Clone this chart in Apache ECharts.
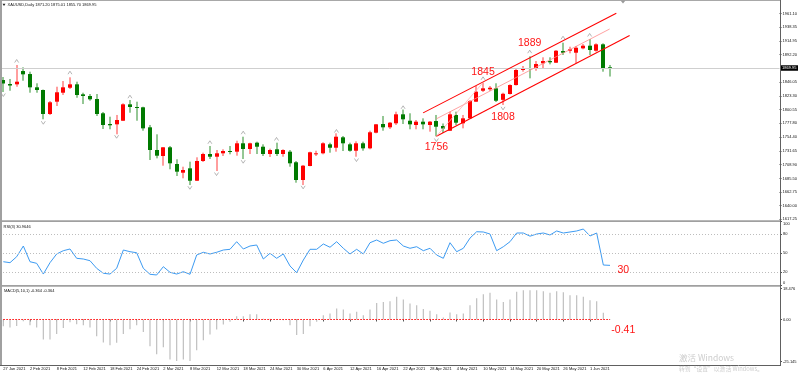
<!DOCTYPE html>
<html>
<head>
<meta charset="utf-8">
<script src="https://cdn.jsdelivr.net/npm/echarts@6/dist/echarts.min.js"></script>
<style>
html,body{margin:0;padding:0;background:#ffffff;}
#chart{width:800px;height:375px;}
</style>
</head>
<body>
<div id="chart"></div>
<script>
const dates = ['27 Jan 2021','28 Jan 2021','29 Jan 2021','1 Feb 2021','2 Feb 2021','3 Feb 2021','4 Feb 2021','5 Feb 2021','8 Feb 2021','9 Feb 2021','10 Feb 2021','11 Feb 2021','12 Feb 2021','15 Feb 2021','16 Feb 2021','17 Feb 2021','18 Feb 2021','19 Feb 2021','22 Feb 2021','23 Feb 2021','24 Feb 2021','25 Feb 2021','26 Feb 2021','1 Mar 2021','2 Mar 2021','3 Mar 2021','4 Mar 2021','5 Mar 2021','8 Mar 2021','9 Mar 2021','10 Mar 2021','11 Mar 2021','12 Mar 2021','15 Mar 2021','16 Mar 2021','17 Mar 2021','18 Mar 2021','19 Mar 2021','22 Mar 2021','23 Mar 2021','24 Mar 2021','25 Mar 2021','26 Mar 2021','29 Mar 2021','30 Mar 2021','31 Mar 2021','1 Apr 2021','5 Apr 2021','6 Apr 2021','7 Apr 2021','8 Apr 2021','9 Apr 2021','12 Apr 2021','13 Apr 2021','14 Apr 2021','15 Apr 2021','16 Apr 2021','19 Apr 2021','20 Apr 2021','21 Apr 2021','22 Apr 2021','23 Apr 2021','26 Apr 2021','27 Apr 2021','28 Apr 2021','29 Apr 2021','30 Apr 2021','3 May 2021','4 May 2021','5 May 2021','6 May 2021','7 May 2021','10 May 2021','11 May 2021','12 May 2021','13 May 2021','14 May 2021','17 May 2021','18 May 2021','19 May 2021','20 May 2021','21 May 2021','24 May 2021','25 May 2021','26 May 2021','27 May 2021','28 May 2021','31 May 2021','1 Jun 2021','2 Jun 2021','3 Jun 2021','4 Jun 2021'];

const opens  = [1849.9,1843.2,1842.7,1864.9,1859.9,1837.7,1833.2,1793.1,1813.7,1828.7,1837.0,1842.7,1826.0,1823.2,1818.2,1794.3,1776.4,1775.9,1781.9,1809.3,1804.8,1804.3,1770.9,1733.0,1723.0,1737.5,1709.6,1695.1,1702.4,1681.7,1714.6,1726.3,1721.8,1727.5,1731.3,1730.2,1744.2,1734.7,1745.2,1738.5,1726.3,1734.2,1726.3,1730.2,1712.5,1682.9,1706.3,1725.8,1727.5,1742.5,1736.8,1754.2,1742.5,1731.8,1744.2,1735.8,1761.9,1776.4,1770.9,1777.6,1792.6,1781.9,1774.8,1780.3,1774.8,1781.4,1773.1,1765.2,1791.5,1777.6,1785.9,1813.7,1832.0,1834.4,1836.0,1816.8,1826.5,1841.5,1866.6,1869.9,1869.4,1877.8,1881.6,1878.8,1898.3,1898.8,1895.5,1902.8,1907.2,1898.8,1909.5,1871.20];
const highs  = [1854.9,1851.6,1875.0,1871.1,1863.8,1844.4,1834.0,1814.8,1838.7,1848.2,1854.4,1847.1,1828.7,1826.5,1826.5,1796.5,1788.6,1791.5,1811.0,1816.5,1813.7,1805.3,1774.8,1759.2,1738.0,1739.7,1717.5,1705.1,1713.5,1720.8,1728.5,1739.7,1733.0,1734.2,1739.7,1748.5,1755.2,1745.2,1746.9,1742.5,1735.2,1745.2,1734.2,1733.0,1714.6,1708.0,1730.2,1731.8,1745.9,1745.2,1760.9,1756.4,1745.2,1747.5,1746.9,1765.2,1776.4,1789.8,1779.8,1797.0,1800.6,1794.3,1783.1,1785.9,1781.4,1791.5,1777.3,1797.0,1797.0,1791.5,1816.5,1839.9,1845.7,1839.9,1844.4,1828.7,1842.7,1868.3,1873.3,1889.5,1881.6,1887.8,1887.8,1900.0,1912.2,1905.5,1906.7,1910.0,1918.4,1911.2,1911.2,1875.01];
const lows   = [1829.9,1832.0,1838.7,1848.7,1828.7,1828.7,1784.3,1791.5,1806.5,1824.9,1834.9,1820.3,1809.8,1815.3,1789.8,1768.1,1767.6,1759.2,1781.4,1795.3,1781.9,1765.2,1716.3,1719.1,1706.8,1700.8,1689.6,1685.7,1674.5,1681.2,1713.0,1718.0,1697.9,1723.0,1725.8,1723.5,1718.0,1726.3,1726.3,1723.0,1721.3,1723.0,1721.8,1705.1,1678.4,1674.5,1705.8,1723.0,1725.8,1728.5,1730.2,1731.3,1730.2,1721.8,1731.8,1734.2,1760.9,1765.2,1768.1,1774.8,1776.4,1767.6,1767.6,1767.6,1763.6,1755.9,1761.4,1764.7,1774.8,1769.2,1784.8,1813.2,1829.9,1831.5,1813.2,1808.2,1825.7,1840.7,1863.8,1852.7,1865.4,1869.4,1876.1,1878.3,1891.7,1894.5,1877.8,1901.2,1891.7,1897.2,1863.8,1855.70];
const closes = [1844.1,1840.7,1847.1,1859.4,1837.7,1833.2,1793.1,1812.7,1829.4,1837.7,1842.7,1824.9,1823.2,1817.7,1793.1,1774.8,1774.3,1783.1,1809.3,1804.8,1804.0,1769.2,1733.0,1723.5,1737.5,1710.8,1696.8,1699.6,1681.7,1714.6,1726.3,1721.8,1727.5,1731.3,1730.5,1744.2,1734.7,1744.2,1738.5,1726.3,1733.0,1726.3,1733.0,1710.8,1682.9,1706.8,1729.2,1727.5,1744.2,1736.8,1755.2,1744.2,1731.8,1744.2,1735.8,1762.6,1775.9,1770.9,1778.6,1792.6,1784.3,1775.9,1780.3,1775.9,1780.3,1771.9,1768.9,1792.6,1778.6,1785.9,1814.8,1830.4,1836.0,1837.0,1815.3,1826.9,1841.5,1866.6,1869.4,1868.6,1876.6,1881.6,1879.5,1898.8,1895.5,1901.2,1903.8,1907.2,1900.0,1909.5,1869.4,1869.95];

const rsiValues = [36.7,35.2,44.6,61.5,36.7,34.2,17.3,35.2,48.9,54.1,56.8,42.1,41.0,38.3,26.3,18.5,17.3,26.3,55.2,52.5,50.9,26.3,16.9,15.8,28.9,20.0,17.3,21.0,16.9,47.3,51.6,48.9,51.6,55.2,56.3,68.3,56.8,61.5,63.1,41.0,50.0,42.1,48.9,30.0,19.4,39.4,56.3,56.3,64.7,59.5,68.3,57.9,48.9,56.3,48.9,66.7,71.0,65.8,69.9,71.0,61.5,57.9,60.4,54.1,57.9,47.3,42.1,66.7,52.5,57.9,74.0,84.0,83.6,80.4,54.1,60.4,68.3,82.0,82.0,77.0,80.4,82.0,78.9,85.2,82.0,83.6,85.2,88.3,77.3,82.0,31.5,30.96];

const macdValues = [-4.0,-4.8,-3.8,-1.0,-3.4,-4.8,-11.9,-11.9,-8.7,-5.0,-1.6,-2.8,-3.4,-4.8,-10.0,-13.7,-15.3,-13.9,-8.7,-5.8,-3.4,-7.4,-15.9,-20.7,-16.5,-23.8,-24.8,-23.8,-24.8,-18.3,-12.3,-8.9,-6.0,-3.0,-1.4,2.0,2.0,3.2,3.2,0.4,0.4,-0.3,-0.4,-3.4,-9.3,-8.7,-4.0,-1.4,2.6,3.6,6.6,6.0,3.6,4.6,2.6,6.0,9.9,10.5,10.9,13.5,11.9,9.5,8.5,6.2,5.2,3.2,1.2,4.2,3.2,3.6,8.5,12.7,15.1,15.9,11.9,10.5,11.9,16.5,17.5,17.5,17.5,16.9,15.9,16.9,16.3,14.5,14.5,13.5,11.5,10.9,4.0,-0.364];

const priceTickValues = [1617.25,1640.00,1662.75,1685.50,1708.90,1731.65,1754.40,1777.80,1800.55,1823.30,1846.05,1892.20,1914.95,1938.35,1961.10];
const rsiTopTick = [100];
const rsiMidTicks = [80,50,20];
const rsiBottomTick = [0];
const rsiLevels = [80,50,20];
const macdTickValues = [18.476,0,-25.145];
const macdTickLabels = ['18.476','0.00','-25.145'];
const lastPrice = 1869.95;

const fractalUpIdx = [2,10,19,31,36,41,50,60,72,79,84,88];
const fractalUpVal = [1881.6,1862.1,1822.0,1745.9,1761.9,1751.4,1764.7,1804.3,1852.7,1897.2,1920.5,1925.1];
const fractalDownIdx = [0,6,17,28,32,36,45,53,65,75];
const fractalDownVal = [1824.9,1778.6,1755.2,1670.0,1692.9,1713.5,1670.7,1716.3,1749.7,1802.6];

const channelUpper = [[63,1795.0],[92,1961.4]];
const channelLower = [[65,1756.0],[94,1924.2]];
const channelMiddle = [[65,1785.1],[91,1935.1]];
const swingLine = [[65,1756.0],[72,1845.7]];
const priceNotes = [['1756',65,1738.5],['1808',75,1787.3],['1845',72,1862.4],['1889',79,1911.2]];
const rsiNote = ['30',93,24.1];
const macdNote = ['-0.41',93,-6.1];

const headerText = 'XAUUSD,Daily 1871.20 1875.01 1855.70 1869.95';
const rsiTitle = 'RSI(3) 30.9646';
const macdTitle = 'MACD(5,10,1) -0.364 -0.364';

const PAD = 25;
const cats = dates.concat(new Array(PAD).fill(''));
const FONT = 'Liberation Sans';
const labelShown = (idx) => idx % 4 === 0 && idx < dates.length;

const candleData = dates.map((d, i) => [i, opens[i], highs[i], lows[i], closes[i]]);

function renderCandle(params, api) {
  const i = api.value(0);
  const o = api.value(1), h = api.value(2), l = api.value(3), c = api.value(4);
  const pO = api.coord([i, o]), pC = api.coord([i, c]);
  const pH = api.coord([i, h]), pL = api.coord([i, l]);
  const bull = c > o;
  const cx = Math.round(pO[0]);
  const top = Math.min(pO[1], pC[1]);
  const bot = Math.max(pO[1], pC[1]);
  return {
    type: 'group',
    children: [
      { type: 'line', shape: { x1: cx, y1: pH[1], x2: cx, y2: pL[1] },
        style: { stroke: bull ? '#ff3c3c' : '#2a8f2a', lineWidth: 1 } },
      { type: 'rect', shape: { x: cx - 2, y: top, width: 4, height: Math.max(bot - top, 1) },
        style: { fill: bull ? '#ff0000' : '#007a00' } }
    ]
  };
}

function hiddenX(gi) {
  return { type: 'category', gridIndex: gi, data: cats, boundaryGap: true,
    axisLine: { show: false }, axisTick: { show: false }, axisLabel: { show: false }, splitLine: { show: false } };
}

function rsiAxis(values, vAlign) {
  return { type: 'value', gridIndex: 1, position: 'right', min: 0, max: 100,
    axisLine: { show: false }, splitLine: { show: false },
    axisTick: { show: true, length: 2, customValues: values, lineStyle: { color: '#555' } },
    axisLabel: { customValues: values, formatter: v => String(v), fontSize: 4, color: '#111', margin: 3,
      fontFamily: FONT, verticalAlign: vAlign } };
}

function styledSeg(pts, color, width) {
  return [{ coord: pts[0], lineStyle: { color: color, width: width, type: 'solid' }, label: { show: false } }, { coord: pts[1] }];
}

const chart = echarts.init(document.getElementById('chart'), null, { renderer: 'canvas' });

const option = {
  animation: false,
  backgroundColor: '#ffffff',
  grid: [
    { left: -1, width: 781, top: 2, height: 218 },
    { left: -1, width: 781, top: 221.6, height: 63.4 },
    { left: -1, width: 781, top: 288.5, height: 73.2 }
  ],
  xAxis: [
    hiddenX(0),
    hiddenX(1),
    { type: 'category', gridIndex: 2, data: cats, boundaryGap: true, offset: 3.5,
      axisLine: { show: false },
      axisTick: { show: true, alignWithLabel: true, interval: labelShown, length: 2, lineStyle: { color: '#555', width: 1 } },
      axisLabel: { show: true, interval: labelShown, align: 'left', fontSize: 4, color: '#111', margin: 1.5, fontFamily: FONT },
      splitLine: { show: false } }
  ],
  yAxis: [
    { type: 'value', gridIndex: 0, position: 'right', min: 1616.1, max: 1980.2,
      axisLine: { show: false }, splitLine: { show: false },
      axisTick: { show: true, length: 2, customValues: priceTickValues, lineStyle: { color: '#555' } },
      axisLabel: { customValues: priceTickValues, formatter: v => v.toFixed(2), fontSize: 4, color: '#111', margin: 3, fontFamily: FONT } },
    rsiAxis(rsiMidTicks, 'middle'),
    { type: 'value', gridIndex: 2, position: 'right', min: -25.145, max: 18.476,
      axisLine: { show: false }, splitLine: { show: false },
      axisTick: { show: true, length: 2, customValues: macdTickValues, lineStyle: { color: '#555' } },
      axisLabel: { customValues: macdTickValues,
        formatter: v => { let best = 0; macdTickValues.forEach((t, k) => { if (Math.abs(t - v) < Math.abs(macdTickValues[best] - v)) best = k; }); return macdTickLabels[best]; },
        fontSize: 4, color: '#111', margin: 3, fontFamily: FONT } },
    rsiAxis(rsiTopTick, 'top'),
    rsiAxis(rsiBottomTick, 'bottom')
  ],
  series: [
    { type: 'custom', name: 'XAUUSD', xAxisIndex: 0, yAxisIndex: 0, data: candleData,
      encode: { x: 0, y: [1, 2, 3, 4] }, renderItem: renderCandle, z: 3 },
    { type: 'scatter', name: 'FractalUp', xAxisIndex: 0, yAxisIndex: 0,
      data: fractalUpIdx.map((d, k) => [d, fractalUpVal[k]]),
      symbol: 'path://M0,6 L3,0 L6,6', symbolSize: [4, 3],
      itemStyle: { color: 'rgba(0,0,0,0)', borderColor: '#8c8c8c', borderWidth: 0.8 }, z: 4,
      markLine: {
        silent: true, symbol: ['none', 'none'], animation: false,
        data: [
          { yAxis: lastPrice, lineStyle: { color: '#cfcfcf', width: 1, type: 'solid' },
            label: { show: true, position: 'end', formatter: lastPrice.toFixed(2), color: '#ffffff', backgroundColor: '#000000',
              fontSize: 4, fontFamily: FONT, padding: [1, 1.5, 0.5, 1.5], distance: 1 } },
          styledSeg(channelUpper, '#ff0000', 1.1),
          styledSeg(channelLower, '#ff0000', 1.1),
          styledSeg(channelMiddle, '#ff8a8a', 0.8),
          styledSeg(swingLine, '#ffb4b4', 0.8)
        ]
      },
      markPoint: {
        silent: true, animation: false, symbol: 'circle', symbolSize: 1,
        itemStyle: { color: 'rgba(0,0,0,0)' },
        label: { show: true, position: 'inside', color: '#ff1414', fontSize: 10.5, fontFamily: FONT },
        data: priceNotes.map(n => ({ coord: [n[1], n[2]], label: { formatter: n[0] } }))
      }
    },
    { type: 'scatter', name: 'FractalDown', xAxisIndex: 0, yAxisIndex: 0,
      data: fractalDownIdx.map((d, k) => [d, fractalDownVal[k]]),
      symbol: 'path://M0,0 L3,6 L6,0', symbolSize: [4, 3],
      itemStyle: { color: 'rgba(0,0,0,0)', borderColor: '#8c8c8c', borderWidth: 0.8 }, z: 4 },
    { type: 'line', name: 'RSI', xAxisIndex: 1, yAxisIndex: 1, data: rsiValues,
      symbol: 'none', lineStyle: { color: '#3d9bf2', width: 1 }, z: 3,
      markLine: {
        silent: true, symbol: ['none', 'none'], animation: false,
        lineStyle: { color: '#bdbdbd', width: 1, type: [1, 2] }, label: { show: false },
        data: rsiLevels.map(v => ({ yAxis: v }))
      },
      markPoint: {
        silent: true, animation: false, symbol: 'circle', symbolSize: 1, itemStyle: { color: 'rgba(0,0,0,0)' },
        label: { show: true, position: 'inside', color: '#ff1414', fontSize: 10.5, fontFamily: FONT, formatter: rsiNote[0] },
        data: [{ coord: [rsiNote[1], rsiNote[2]] }]
      }
    },
    { type: 'bar', name: 'MACD', xAxisIndex: 2, yAxisIndex: 2, data: macdValues,
      barWidth: 1.2, itemStyle: { color: '#bfbfbf' }, z: 3,
      markLine: {
        silent: true, symbol: ['none', 'none'], animation: false,
        lineStyle: { color: '#ff0000', width: 1, type: [1.5, 1.5] }, label: { show: false },
        data: [[{ coord: [0, 0] }, { coord: [dates.length - 1, 0] }]]
      },
      markPoint: {
        silent: true, animation: false, symbol: 'circle', symbolSize: 1, itemStyle: { color: 'rgba(0,0,0,0)' },
        label: { show: true, position: 'inside', color: '#ff1414', fontSize: 10.5, fontFamily: FONT, formatter: macdNote[0] },
        data: [{ coord: [macdNote[1], macdNote[2]] }]
      }
    }
  ],
  graphic: [
    { type: 'line', z: 100, shape: { x1: 0, y1: 0.5, x2: 780, y2: 0.5 }, style: { stroke: '#a8a8a8', lineWidth: 1 } },
    { type: 'line', z: 100, shape: { x1: 1, y1: 0, x2: 1, y2: 365 }, style: { stroke: '#a0a0a0', lineWidth: 2 } },
    { type: 'rect', z: 100, shape: { x: 0, y: 220.2, width: 780, height: 1.8 }, style: { fill: '#a0a0a0' } },
    { type: 'rect', z: 100, shape: { x: 0, y: 284.9, width: 780, height: 1.8 }, style: { fill: '#a0a0a0' } },
    { type: 'line', z: 100, shape: { x1: 780.5, y1: 0, x2: 780.5, y2: 365.5 }, style: { stroke: '#606060', lineWidth: 1 } },
    { type: 'line', z: 100, shape: { x1: 0, y1: 365.5, x2: 781, y2: 365.5 }, style: { stroke: '#606060', lineWidth: 1 } },
    { type: 'polygon', z: 100, shape: { points: [[620.5, 0.5], [625.5, 0.5], [623, 3.5]] }, style: { fill: '#9a9a9a' } },
    { type: 'polygon', z: 100, shape: { points: [[2.5, 3.8], [5.5, 3.8], [4, 6]] }, style: { fill: '#222' } },
    { type: 'text', z: 100, x: 7.5, y: 3, style: { text: headerText, fontSize: 4, fontFamily: FONT, fill: '#111' } },
    { type: 'text', z: 100, x: 3.5, y: 224.5, style: { text: rsiTitle, fontSize: 4, fontFamily: FONT, fill: '#111' } },
    { type: 'text', z: 100, x: 4, y: 288.5, style: { text: macdTitle, fontSize: 4, fontFamily: FONT, fill: '#111' } },
    { type: 'text', z: 100, x: 679, y: 353.5, style: { text: '激活 Windows', fontSize: 8.5, fontFamily: 'Noto Sans CJK SC', fill: '#cdcdcd' } },
    { type: 'text', z: 100, x: 679, y: 365.8, style: { text: '转到“设置”以激活 Windows。', fontSize: 5.8, fontFamily: 'Noto Sans CJK SC', fill: '#cdcdcd' } }
  ]
};

chart.setOption(option);
</script>
</body>
</html>
